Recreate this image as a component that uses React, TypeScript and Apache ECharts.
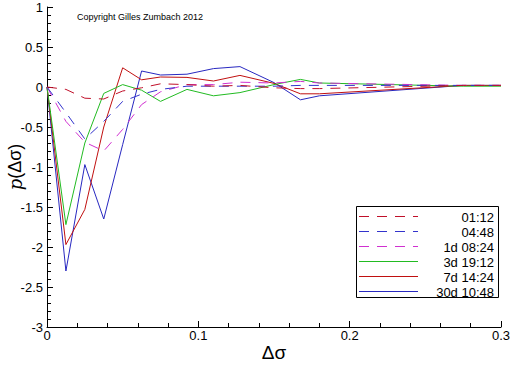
import React, { useEffect, useRef } from "react";
import * as echarts from "echarts";

const xValues = [0, 0.0125, 0.025, 0.0375, 0.05, 0.0625, 0.075, 0.0925, 0.11, 0.1275, 0.15, 0.1675, 0.18, 0.275, 0.3];

const seriesNames = ["01:12", "04:48", "1d 08:24", "3d 19:12", "7d 14:24", "30d 10:48"];

const s0112 = [0, -0.03, -0.14, -0.15, -0.05, -0.01, 0.04, 0.03, 0.01, 0.02, -0.01, -0.02, -0.02, 0.02, 0.02];
const s0448 = [0, -0.32, -0.65, -0.43, -0.18, -0.09, -0.03, 0.01, 0.01, 0.01, 0.01, 0.02, 0.02, 0.02, 0.02];
const s1d = [0, -0.43, -0.69, -0.8, -0.53, -0.22, -0.06, 0.03, 0.03, 0.06, 0.05, 0.07, 0.05, 0.02, 0.02];
const s3d = [0, -1.72, -0.7, -0.08, 0.03, -0.04, -0.18, -0.03, -0.11, -0.07, 0.03, 0.095, 0.05, 0.01, 0.01];
const s7d = [0, -1.97, -1.53, -0.5, 0.24, 0.09, 0.125, 0.12, 0.075, 0.145, 0.045, -0.085, -0.085, 0.02, 0.02];
const s30d = [0, -2.3, -0.97, -1.65, -0.72, 0.2, 0.15, 0.16, 0.23, 0.255, 0.055, -0.16, -0.11, 0.02, 0.02];

const allValues = [s0112, s0448, s1d, s3d, s7d, s30d];
const colors = ["#c0102a", "#3333cc", "#d030d0", "#22bb22", "#c01010", "#2828c0"];
const dashed = [true, true, true, false, false, false];

const yTicks = ["1", "0.5", "0", "-0.5", "-1", "-1.5", "-2", "-2.5", "-3"];

const FONT = "Liberation Sans, Arial, sans-serif";
const DASH = [10, 8];

export default function App() {
  const ref = useRef<HTMLDivElement>(null);
  useEffect(() => {
    if (!ref.current) return;
    const chart = echarts.init(ref.current, undefined, { renderer: "svg" });
    const series = seriesNames.map((name, i) => ({
      name,
      type: "line",
      data: xValues.map((x, j) => [x, allValues[i][j]]),
      showSymbol: false,
      symbol: "none",
      lineStyle: {
        color: colors[i],
        width: 1,
        type: dashed[i] ? DASH : "solid",
      },
      itemStyle: { color: colors[i] },
      z: 10 - i,
    }));

    const legendTop = 206;
    const legendChildren: any[] = [
      {
        type: "rect",
        shape: { x: 356.5, y: legendTop + 0.5, width: 142, height: 91 },
        style: { fill: "#fff", stroke: "#000", lineWidth: 1 },
      },
    ];
    seriesNames.forEach((name, i) => {
      const cy = legendTop + 9.5 + i * 15.1;
      legendChildren.push({
        type: "line",
        shape: { x1: 359, y1: Math.round(cy) + 0.5, x2: 418, y2: Math.round(cy) + 0.5 },
        style: { stroke: colors[i], lineWidth: 1, lineDash: dashed[i] ? DASH : null },
      });
      legendChildren.push({
        type: "text",
        x: 494,
        y: Math.round(cy) + 1,
        style: {
          text: name,
          fontSize: 13,
          fontFamily: FONT,
          fill: "#000",
          align: "right",
          verticalAlign: "middle",
        },
      });
    });

    chart.setOption({
      animation: false,
      backgroundColor: "#ffffff",
      grid: { left: 47, right: 11, top: 7, bottom: 39, containLabel: false, outerBoundsMode: "none" },
      xAxis: {
        type: "value",
        min: 0,
        max: 0.3,
        interval: 0.1,
        name: "Δσ",
        nameLocation: "middle",
        nameGap: 16,
        nameMoveOverlap: false,
        nameTextStyle: { fontSize: 19, fontFamily: FONT, color: "#000" },
        axisLine: { show: true, onZero: false, lineStyle: { color: "#000", width: 1 } },
        axisTick: { show: true, inside: true, length: 6, lineStyle: { color: "#000" } },
        minorTick: { show: true, splitNumber: 5, length: 4, lineStyle: { color: "#000" } },
        splitLine: { show: false },
        axisLabel: {
          fontSize: 13,
          fontFamily: FONT,
          color: "#000",
          margin: 2,
          formatter: (v: number) => String(Math.round(v * 10) / 10),
        },
      },
      yAxis: {
        type: "value",
        min: -3,
        max: 1,
        interval: 0.5,
        name: "{i|p}(Δσ)",
        nameLocation: "middle",
        nameGap: 23,
        nameRotate: 90,
        nameMoveOverlap: false,
        nameTextStyle: {
          fontSize: 18,
          fontFamily: FONT,
          color: "#000",
          rich: { i: { fontStyle: "italic", fontSize: 18, fontFamily: "DejaVu Serif, serif", color: "#000" } },
        },
        axisLine: { show: true, onZero: false, lineStyle: { color: "#000", width: 1 } },
        axisTick: { show: true, inside: true, length: 6, lineStyle: { color: "#000" } },
        minorTick: { show: true, splitNumber: 5, length: 4, lineStyle: { color: "#000" } },
        splitLine: { show: false },
        axisLabel: {
          fontSize: 13,
          fontFamily: FONT,
          color: "#000",
          margin: 4,
          formatter: (v: number) => {
            const s = String(Math.round(v * 10) / 10);
            return yTicks.includes(s) ? s : "";
          },
        },
      },
      legend: { show: false },
      graphic: [
        {
          type: "text",
          left: 77,
          top: 12,
          style: { text: "Copyright Gilles Zumbach 2012", fontSize: 9, fontFamily: FONT, fill: "#000" },
        },
        { type: "group", children: legendChildren },
      ],
      series,
    });
    return () => chart.dispose();
  }, []);
  return <div ref={ref} style={{ width: 512, height: 366, position: "absolute", left: 0, top: 0 }} />;
}
